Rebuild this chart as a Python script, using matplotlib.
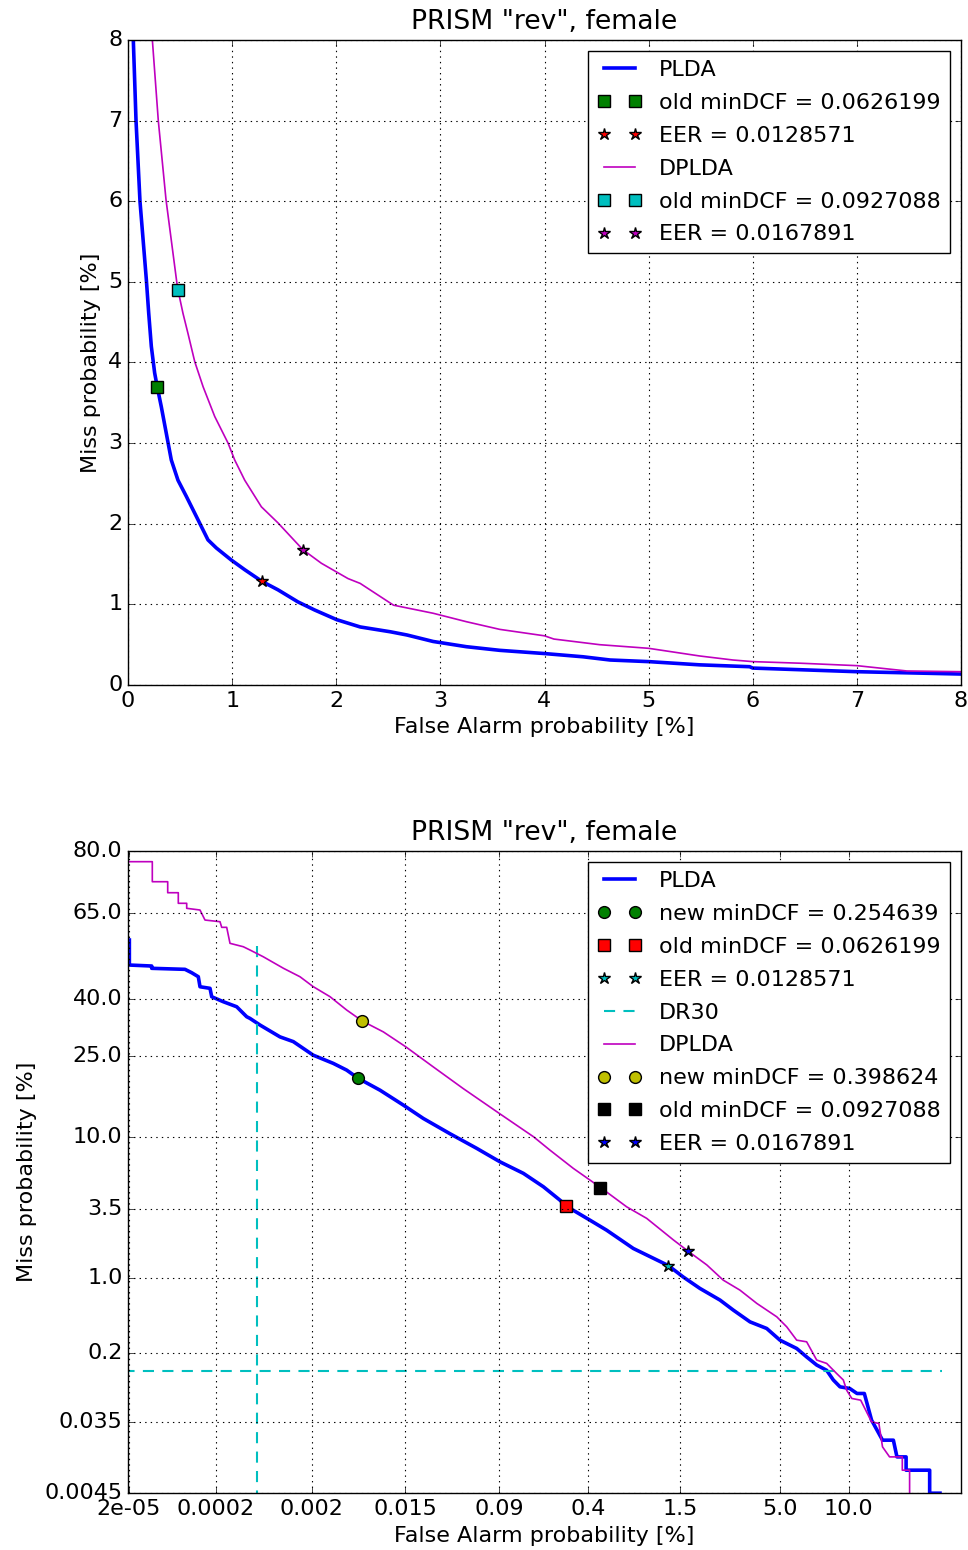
import math
import numpy as np
import matplotlib
matplotlib.use('Agg')
import matplotlib.pyplot as plt

# ---- top panel (linear axes, values in %) ----
plda_fa = [0.04, 0.051, 0.077, 0.115, 0.176, 0.199, 0.224, 0.256, 0.282, 0.320,
           0.368, 0.416, 0.48, 0.56, 0.672, 0.768, 0.848, 0.992, 1.121, 1.2857,
           1.441, 1.633, 1.793, 2.005, 2.23, 2.52, 2.68, 2.93, 3.25, 3.57,
           4.0, 4.37, 4.63, 5.0, 5.49, 5.97, 6.0, 7.0, 8.0, 8.2]
plda_miss = [9.0, 8.0, 7.0, 6.0, 5.03, 4.61, 4.20, 3.87, 3.69, 3.45,
             3.12, 2.79, 2.54, 2.34, 2.05, 1.80, 1.70, 1.55, 1.43, 1.2857,
             1.18, 1.03, 0.93, 0.81, 0.72, 0.66, 0.62, 0.54, 0.475, 0.43,
             0.39, 0.35, 0.31, 0.29, 0.25, 0.227, 0.21, 0.165, 0.136, 0.13]
dplda_fa = [0.20, 0.234, 0.291, 0.365, 0.468, 0.48, 0.528, 0.576, 0.641, 0.721,
            0.833, 0.961, 1.025, 1.121, 1.281, 1.441, 1.679, 1.857, 2.113, 2.23,
            2.55, 2.93, 3.25, 3.57, 4.0, 4.09, 4.53, 5.0, 5.49, 5.81,
            6.0, 6.46, 7.0, 7.48, 8.0, 8.2]
dplda_miss = [9.0, 8.0, 7.0, 6.02, 5.0, 4.9, 4.61, 4.36, 4.01, 3.70,
              3.33, 3.0, 2.79, 2.54, 2.21, 2.01, 1.679, 1.51, 1.32, 1.26,
              0.99, 0.89, 0.785, 0.69, 0.61, 0.57, 0.50, 0.455, 0.36, 0.31,
              0.29, 0.27, 0.24, 0.174, 0.165, 0.165]

# operating points (false alarm %, miss %)
plda_old_dcf = (0.282, 3.69)
plda_new_dcf = (0.005619, 19.95)
plda_eer = (1.28571, 1.28571)
dplda_old_dcf = (0.48, 4.9)
dplda_new_dcf = (0.006124, 33.78)
dplda_eer = (1.67891, 1.67891)

# ---- bottom panel (DET curves, values in %) ----
det_plda_fa = [2.02e-05, 2.02e-05, 3.72e-05, 3.72e-05, 9.018e-05, 0.0001074, 0.0001274, 0.0001331,
               0.000172, 0.0001796, 0.0002408, 0.0003363, 0.0004303, 0.000466, 0.000595, 0.000959,
               0.00131, 0.00207, 0.00325, 0.00437, 0.005619, 0.00891, 0.0144, 0.0216,
               0.0363, 0.06, 0.0915, 0.138, 0.194, 0.255, 0.2821, 0.411,
               0.531, 0.787, 1.2857, 1.57, 1.95, 2.51, 2.95, 3.59,
               4.34, 5.02, 6.0, 6.65, 7.36, 8.12, 8.66, 9.23,
               10.1, 10.8, 11.53, 12.29, 13.5, 14.78, 15.22, 16.38,
               16.38, 19.63, 19.63, 21.17]
det_plda_miss = [57.22, 49.86, 49.57, 48.89, 48.59, 47.59, 46.41, 43.47,
                 43.01, 40.58, 39.15, 37.73, 34.95, 34.5, 32.7, 29.6,
                 28.4, 25.1, 23.2, 21.7, 19.95, 17.6, 14.9, 12.7,
                 10.5, 8.66, 7.19, 6.09, 4.98, 4.04, 3.673, 2.91,
                 2.45, 1.77, 1.2857, 1.03, 0.82, 0.645, 0.522, 0.405,
                 0.35, 0.269, 0.222, 0.182, 0.15, 0.132, 0.104, 0.0876,
                 0.0841, 0.074, 0.074, 0.03673, 0.02121, 0.02121, 0.01319, 0.01319,
                 0.008949, 0.008949, 0.004474, 0.004474]
det_dplda_fa = [1.95e-05, 3.781e-05, 3.781e-05, 5.714e-05, 5.714e-05, 7.564e-05, 7.564e-05, 9.428e-05,
                9.428e-05, 0.0001331, 0.0001513, 0.0002216, 0.0002313, 0.0002622, 0.0002847, 0.0003958,
                0.000466, 0.000644, 0.00104, 0.00153, 0.00207, 0.00302, 0.00437, 0.006124,
                0.00955, 0.0152, 0.0263, 0.0467, 0.0904, 0.164, 0.216, 0.316,
                0.4798, 0.715, 0.953, 1.38, 1.679, 2.13, 2.61, 3.19,
                3.88, 4.85, 5.4, 6.0, 6.65, 7.36, 8.12, 8.94,
                9.52, 9.82, 10.3, 11.16, 12.29, 13.09, 13.5, 14.32,
                15.89, 15.89, 16.84, 16.84]
det_dplda_miss = [77.71, 77.71, 73.04, 73.04, 70.28, 70.28, 67.51, 67.51,
                  66.16, 65.7, 62.93, 62.46, 60.87, 60.87, 56.25, 55.26,
                  54.3, 52.3, 48.9, 46.4, 43.5, 40.6, 36.8, 33.78,
                  30.9, 27.1, 22.4, 17.9, 13.5, 10.1, 8.46, 6.55,
                  4.956, 3.63, 3.0, 2.06, 1.679, 1.3, 0.968, 0.792,
                  0.602, 0.452, 0.363, 0.269, 0.259, 0.169, 0.156, 0.122,
                  0.104, 0.0805, 0.0651, 0.06231, 0.03508, 0.03359, 0.01756, 0.01319,
                  0.01319, 0.008949, 0.008949, 0.004474]
dr30_fa = 0.0005571
dr30_miss = 0.1302
dr30_top = 55.46
dr30_right = 21.55

det_xticks = [2e-05, 0.0002, 0.002, 0.015, 0.09, 0.4, 1.5, 5.0, 10.0]
det_xlabels = ['2e-05', '0.0002', '0.002', '0.015', '0.09', '0.4', '1.5', '5.0', '10.0']
det_yticks = [0.0045, 0.035, 0.2, 1.0, 3.5, 10.0, 25.0, 40.0, 65.0, 80.0]
det_ylabels = ['0.0045', '0.035', '0.2', '1.0', '3.5', '10.0', '25.0', '40.0', '65.0', '80.0']
det_xlim = (1.945e-05, 24.51)
det_ylim = (0.0045, 80.0)


def probit(p):
    # inverse normal cdf (Acklam's approximation)
    p = np.atleast_1d(np.asarray(p, dtype=float))
    shape = p.shape
    p = np.clip(p.ravel(), 1e-15, 1 - 1e-15)
    a = [-3.969683028665376e+01, 2.209460984245205e+02, -2.759285104469687e+02,
         1.383577518672690e+02, -3.066479806614716e+01, 2.506628277459239e+00]
    b = [-5.447609879822406e+01, 1.615858368580409e+02, -1.556989798598866e+02,
         6.680131188771972e+01, -1.328068155288572e+01]
    c = [-7.784894002430293e-03, -3.223964580411365e-01, -2.400758277161838e+00,
         -2.549732539343734e+00, 4.374664141464968e+00, 2.938163982698783e+00]
    d = [7.784695709041462e-03, 3.224671290700398e-01, 2.445134137142996e+00,
         3.754408661907416e+00]
    out = np.full(p.shape, np.nan)
    lo = p < 0.02425
    hi = p > 1 - 0.02425
    mid = ~(lo | hi) & ~np.isnan(p)
    q = np.sqrt(-2 * np.log(p[lo]))
    out[lo] = (((((c[0]*q+c[1])*q+c[2])*q+c[3])*q+c[4])*q+c[5]) / ((((d[0]*q+d[1])*q+d[2])*q+d[3])*q+1)
    q = np.sqrt(-2 * np.log(1 - p[hi]))
    out[hi] = -(((((c[0]*q+c[1])*q+c[2])*q+c[3])*q+c[4])*q+c[5]) / ((((d[0]*q+d[1])*q+d[2])*q+d[3])*q+1)
    q = p[mid] - 0.5
    r = q * q
    out[mid] = (((((a[0]*r+a[1])*r+a[2])*r+a[3])*r+a[4])*r+a[5])*q / (((((b[0]*r+b[1])*r+b[2])*r+b[3])*r+b[4])*r+1)
    return out.reshape(shape)


_erfc = np.vectorize(math.erfc, otypes=[float])

def fwd(v):
    return probit(np.asarray(v, dtype=float) / 100.0)

def inv(u):
    return 50.0 * _erfc(-np.asarray(u, dtype=float) / math.sqrt(2))


plt.style.use('classic')
plt.rcParams['font.size'] = 16
plt.rcParams['figure.facecolor'] = 'white'
plt.rcParams['savefig.facecolor'] = 'white'
plt.rcParams['grid.linewidth'] = 0.8
plt.rcParams['legend.labelspacing'] = 0.58

fig = plt.figure(figsize=(9.68, 15.5), dpi=100)
ax1 = fig.add_axes([128/968, 1 - 685/1550, 833/968, 645/1550])
ax2 = fig.add_axes([128/968, 1 - 1493/1550, 833/968, 642/1550])

mk = dict(linestyle='none', mec='k', mew=1.0)

# top: linear
ax1.plot(plda_fa, plda_miss, color='b', lw=2.6, label='PLDA')
ax1.plot(*plda_old_dcf, marker='s', ms=8, color='g', label='old minDCF = 0.0626199', **mk)
ax1.plot(*plda_eer, marker='*', ms=9, color='r', label='EER = 0.0128571', **mk)
ax1.plot(dplda_fa, dplda_miss, color='m', lw=1.2, label='DPLDA')
ax1.plot(*dplda_old_dcf, marker='s', ms=8, color='c', label='old minDCF = 0.0927088', **mk)
ax1.plot(*dplda_eer, marker='*', ms=9, color='m', label='EER = 0.0167891', **mk)
ax1.set_xlim(0, 8)
ax1.set_ylim(0, 8)
ax1.set_xticks(range(9))
ax1.set_yticks(range(9))
ax1.grid(True)
ax1.set_xlabel('False Alarm probability [%]')
ax1.set_ylabel('Miss probability [%]')
ax1.set_title('PRISM "rev", female', fontsize=19.2, pad=8)
ax1.legend(loc='upper right', numpoints=2, fontsize=16)

# bottom: DET (probit) axes
ax2.set_xscale('function', functions=(fwd, inv))
ax2.set_yscale('function', functions=(fwd, inv))
ax2.plot(det_plda_fa, det_plda_miss, color='b', lw=2.6, label='PLDA')
ax2.plot(*plda_new_dcf, marker='o', ms=8.5, color='g', label='new minDCF = 0.254639', **mk)
ax2.plot(*plda_old_dcf, marker='s', ms=8, color='r', label='old minDCF = 0.0626199', **mk)
ax2.plot(*plda_eer, marker='*', ms=9, color='c', label='EER = 0.0128571', **mk)
ax2.plot([dr30_fa, dr30_fa], [dr30_top, 0.001], color='c', lw=1.5, dashes=(8, 6), label='DR30')
ax2.plot([1e-05, dr30_right], [dr30_miss, dr30_miss], color='c', lw=1.5, dashes=(8, 6))
ax2.plot(det_dplda_fa, det_dplda_miss, color='m', lw=1.2, label='DPLDA')
ax2.plot(*dplda_new_dcf, marker='o', ms=8.5, color='y', label='new minDCF = 0.398624', **mk)
ax2.plot(*dplda_old_dcf, marker='s', ms=8, color='k', label='old minDCF = 0.0927088', **mk)
ax2.plot(*dplda_eer, marker='*', ms=9, color='b', label='EER = 0.0167891', **mk)
ax2.set_xlim(*det_xlim)
ax2.set_ylim(*det_ylim)
ax2.set_xticks(det_xticks)
ax2.set_xticklabels(det_xlabels)
ax2.set_yticks(det_yticks)
ax2.set_yticklabels(det_ylabels)
ax2.minorticks_off()
ax2.grid(True)
ax2.set_xlabel('False Alarm probability [%]')
ax2.set_ylabel('Miss probability [%]')
ax2.set_title('PRISM "rev", female', fontsize=19.2, pad=8)
ax2.legend(loc='upper right', numpoints=2, fontsize=16)

fig.savefig('out.png', dpi=100)
